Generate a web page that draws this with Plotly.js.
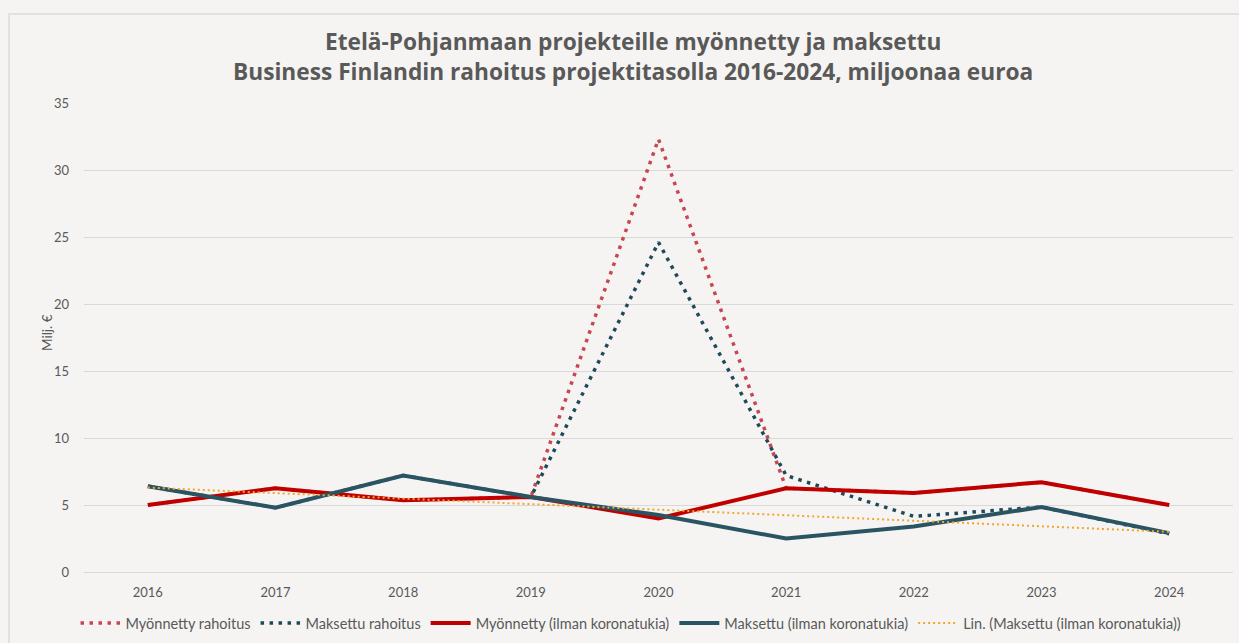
<!DOCTYPE html>
<html>
<head>
<meta charset="utf-8">
<script src="https://cdn.plot.ly/plotly-3.0.1.min.js"></script>
<style>
html,body{margin:0;padding:0;background:#f5f4f2;}
#wrap{position:relative;width:1239px;height:643px;}
#chart{width:1239px;height:643px;}
#frame{position:absolute;left:8px;top:13px;width:1240px;height:640px;border:2px solid #e2e1df;pointer-events:none;box-sizing:border-box;}
</style>
</head>
<body>
<div id="wrap"><div id="chart"></div><div id="frame"></div></div>
<script>
const years = ['2016','2017','2018','2019','2020','2021','2022','2023','2024'];
const myonnettyRahoitus = [5.0, 6.25, 5.35, 5.6, 32.3, 6.25, 5.9, 6.7, 5.0];
const maksettuRahoitus  = [6.4, 4.8, 7.2, 5.6, 24.6, 7.2, 4.15, 4.85, 2.85];
const myonnettyIlman    = [5.0, 6.25, 5.35, 5.6, 4.0, 6.25, 5.9, 6.7, 5.0];
const maksettuIlman     = [6.4, 4.8, 7.2, 5.6, 4.25, 2.5, 3.4, 4.85, 2.9];
const trendYears = ['2016','2024'];
const trendValues = [6.3, 3.0];

const names = ['Myönnetty rahoitus','Maksettu rahoitus','Myönnetty (ilman koronatukia)','Maksettu (ilman koronatukia)','Lin. (Maksettu (ilman koronatukia))'];

const traces = [
  {x: years, y: myonnettyRahoitus, name: names[0], mode: 'lines', line: {color: '#c8464f', width: 3.5, dash: '3.5px,5.5px'}},
  {x: years, y: maksettuRahoitus, name: names[1], mode: 'lines', line: {color: '#1d4a5a', width: 3.5, dash: '3.5px,5.5px'}},
  {x: years, y: myonnettyIlman, name: names[2], mode: 'lines', line: {color: '#c00000', width: 4}},
  {x: years, y: maksettuIlman, name: names[3], mode: 'lines', line: {color: '#2b5462', width: 4}},
  {x: trendYears, y: trendValues, name: names[4], mode: 'lines', line: {color: '#f2a62c', width: 2, dash: '2px,3px'}}
];

const layout = {
  width: 1239, height: 643,
  paper_bgcolor: '#f5f4f2', plot_bgcolor: '#f5f4f2',
  margin: {l: 84, r: 6, t: 103, b: 71},
  font: {family: 'Lato, "Open Sans", sans-serif', color: '#595959', size: 13},
  title: {
    text: '<b>Etelä-Pohjanmaan projekteille myönnetty ja maksettu<br>Business Finlandin rahoitus projektitasolla 2016-2024, miljoonaa euroa</b>',
    font: {family: '"Open Sans", sans-serif', size: 22.7, color: '#595959'},
    x: 0.511, xref: 'container', xanchor: 'center',
    y: 1 - 50/643, yref: 'container', yanchor: 'middle'
  },
  xaxis: {
    type: 'category', range: [-0.5, 8.5],
    showgrid: false, showline: true, linecolor: '#d9d9d9', linewidth: 1,
    ticks: '', ticklabelstandoff: 8,
    tickfont: {size: 13, color: '#595959'}
  },
  yaxis: {
    range: [0, 35], dtick: 5, tick0: 0,
    showgrid: true, gridcolor: '#d9d9d9', gridwidth: 1,
    zeroline: false, showline: false, ticks: '',
    ticklabelstandoff: 14,
    tickfont: {size: 13, color: '#595959'}
  },
  annotations: [{
    text: 'Milj. €', textangle: -90, showarrow: false,
    xref: 'paper', x: (47 - 84) / 1149, xanchor: 'center',
    yref: 'paper', y: (572 - 333) / 469, yanchor: 'middle',
    font: {size: 13.5, color: '#595959'}
  }],
  showlegend: true,
  legend: {
    orientation: 'h', x: (631 - 84) / 1149, xanchor: 'center',
    yref: 'container', y: 1 - 623/643, yanchor: 'middle',
    font: {size: 14.5, color: '#595959'},
    bgcolor: 'rgba(0,0,0,0)', traceorder: 'normal', itemwidth: 40
  }
};

Plotly.newPlot('chart', traces, layout, {displayModeBar: false, staticPlot: true});
</script>
</body>
</html>
